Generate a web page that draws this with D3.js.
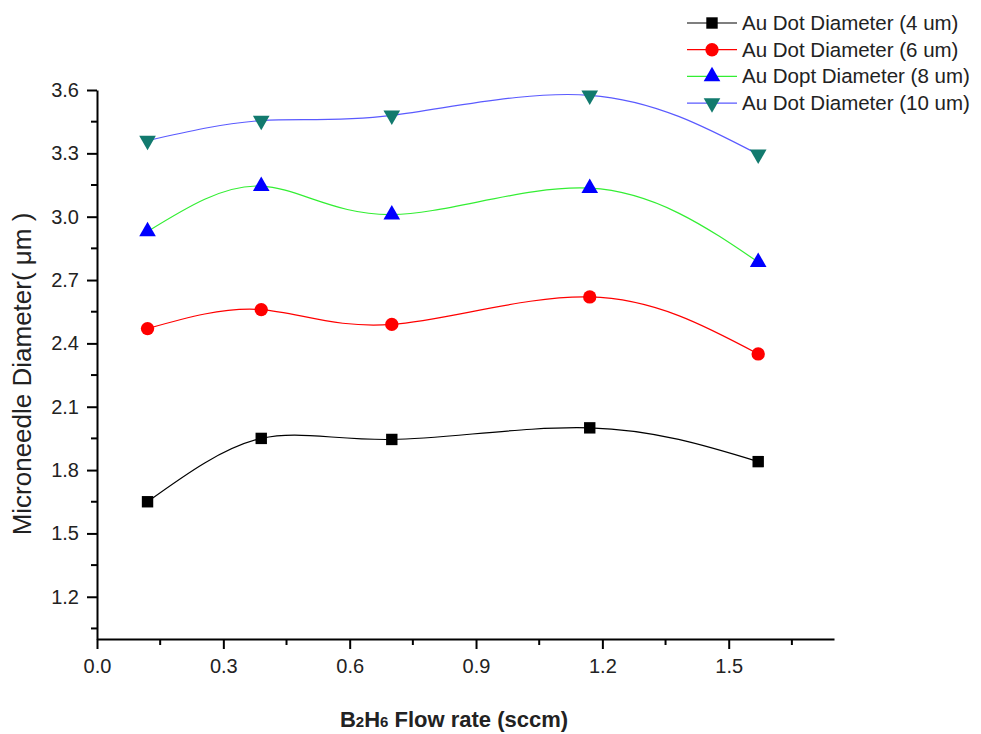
<!DOCTYPE html>
<html lang="en">
<head>
  <meta charset="UTF-8">
  <title>Microneedle Diameter</title>
  <script src="https://cdn.jsdelivr.net/npm/d3@7"></script>
  <style>
    body { margin: 0; background: #fff; }
    text { font-family: Arial, "Liberation Sans", sans-serif; }
  </style>
</head>
<body>
  <svg id="chart" width="981" height="734"></svg>
  <script>
    // data
    const flowRate = [0.12, 0.39, 0.70, 1.17, 1.57];
    const dot4 = [1.65, 1.95, 1.945, 2.0, 1.84];
    const dot6 = [2.47, 2.56, 2.49, 2.62, 2.35];
    const dot8 = [2.93, 3.145, 3.01, 3.135, 2.785];
    const dot10 = [3.36, 3.455, 3.48, 3.575, 3.295];
    const seriesNames = ['Au Dot Diameter (4 um)', 'Au Dot Diameter (6 um)', 'Au Dopt Diameter (8 um)', 'Au Dot Diameter (10 um)'];
    const xTicks = [0.0, 0.3, 0.6, 0.9, 1.2, 1.5];
    const yTicks = [1.2, 1.5, 1.8, 2.1, 2.4, 2.7, 3.0, 3.3, 3.6];

    const series = [
      { name: seriesNames[0], vals: dot4, line: '#000000', fill: '#000000', sym: d3.symbolSquare, size: 130 },
      { name: seriesNames[1], vals: dot6, line: '#ff0000', fill: '#ff0000', sym: d3.symbolCircle, size: 140 },
      { name: seriesNames[2], vals: dot8, line: '#33ee33', fill: '#0000ff', sym: d3.symbolTriangle, size: 120 },
      { name: seriesNames[3], vals: dot10, line: '#5a5aff', fill: '#127a6e', sym: d3.symbolTriangle, size: 120, flip: true }
    ];

    const svg = d3.select('#chart');
    const x = d3.scaleLinear().domain([0, 1.75]).range([97, 834]);
    const y = d3.scaleLinear().domain([1.0, 3.6]).range([639, 90]);

    // minor ticks every 0.15
    const xMinor = d3.range(0.15, 1.75, 0.3);
    const yMinor = d3.range(1.05, 3.6, 0.3);

    const xAxis = svg.append('g').attr('transform', 'translate(0,639)');
    xAxis.call(d3.axisBottom(x).tickValues(xTicks).tickFormat(d3.format('.1f')).tickSize(10).tickSizeOuter(0));
    xAxis.selectAll('.minor').data(xMinor).enter().append('line')
      .attr('x1', d => x(d)).attr('x2', d => x(d)).attr('y1', 0).attr('y2', 6)
      .attr('stroke', '#000').attr('stroke-width', 2);

    const yAxis = svg.append('g').attr('transform', 'translate(97,0)');
    yAxis.call(d3.axisLeft(y).tickValues(yTicks).tickFormat(d3.format('.1f')).tickSize(10).tickSizeOuter(0));
    yAxis.selectAll('.minor').data(yMinor).enter().append('line')
      .attr('x1', -6).attr('x2', 0).attr('y1', d => y(d)).attr('y2', d => y(d))
      .attr('stroke', '#000').attr('stroke-width', 2);

    svg.selectAll('.domain').attr('stroke', '#000').attr('stroke-width', 2);
    svg.selectAll('.tick line').attr('stroke', '#000').attr('stroke-width', 2);
    svg.selectAll('.tick text').attr('font-size', '20px').attr('fill', '#222')
      .attr('font-family', 'Arial, "Liberation Sans", sans-serif');
    xAxis.selectAll('.tick text').attr('dy', '0.71em').attr('y', 20);
    yAxis.selectAll('.tick text').attr('x', -18);

    // lines and markers
    const line = d3.line()
      .x((d, i) => x(flowRate[i]))
      .y(d => y(d))
      .curve(d3.curveNatural);

    series.forEach(s => {
      svg.append('path')
        .attr('d', line(s.vals))
        .attr('fill', 'none')
        .attr('stroke', s.line)
        .attr('stroke-width', 1.2);
    });
    series.forEach(s => {
      svg.selectAll(null).data(s.vals).enter().append('path')
        .attr('d', d3.symbol().type(s.sym).size(s.size))
        .attr('transform', (d, i) => `translate(${x(flowRate[i])},${y(d)})${s.flip ? ' rotate(180)' : ''}`)
        .attr('fill', s.fill);
    });

    // legend
    const legend = svg.append('g').attr('transform', 'translate(687,23)');
    series.forEach((s, i) => {
      const row = legend.append('g').attr('transform', `translate(0,${i * 26.7})`);
      row.append('line').attr('x1', 0).attr('x2', 50).attr('y1', 0).attr('y2', 0)
        .attr('stroke', s.line).attr('stroke-width', 1.2);
      row.append('path')
        .attr('d', d3.symbol().type(s.sym).size(s.size))
        .attr('transform', `translate(25,0)${s.flip ? ' rotate(180)' : ''}`)
        .attr('fill', s.fill);
      row.append('text').attr('x', 55).attr('y', 7)
        .attr('font-size', '20.5px').attr('fill', '#222')
        .text(s.name);
    });

    // axis titles
    svg.append('text')
      .attr('transform', 'translate(31,374) rotate(-90)')
      .attr('text-anchor', 'middle')
      .attr('font-size', '26px').attr('fill', '#222')
      .text('Microneedle Diameter( μm )');

    const xt = svg.append('text')
      .attr('x', 454).attr('y', 727)
      .attr('text-anchor', 'middle')
      .attr('font-size', '22px').attr('font-weight', 'bold').attr('fill', '#222');
    xt.append('tspan').text('B');
    xt.append('tspan').attr('font-size', '15px').text('2');
    xt.append('tspan').text('H');
    xt.append('tspan').attr('font-size', '15px').text('6');
    xt.append('tspan').text(' Flow rate (sccm)');
  </script>
</body>
</html>
